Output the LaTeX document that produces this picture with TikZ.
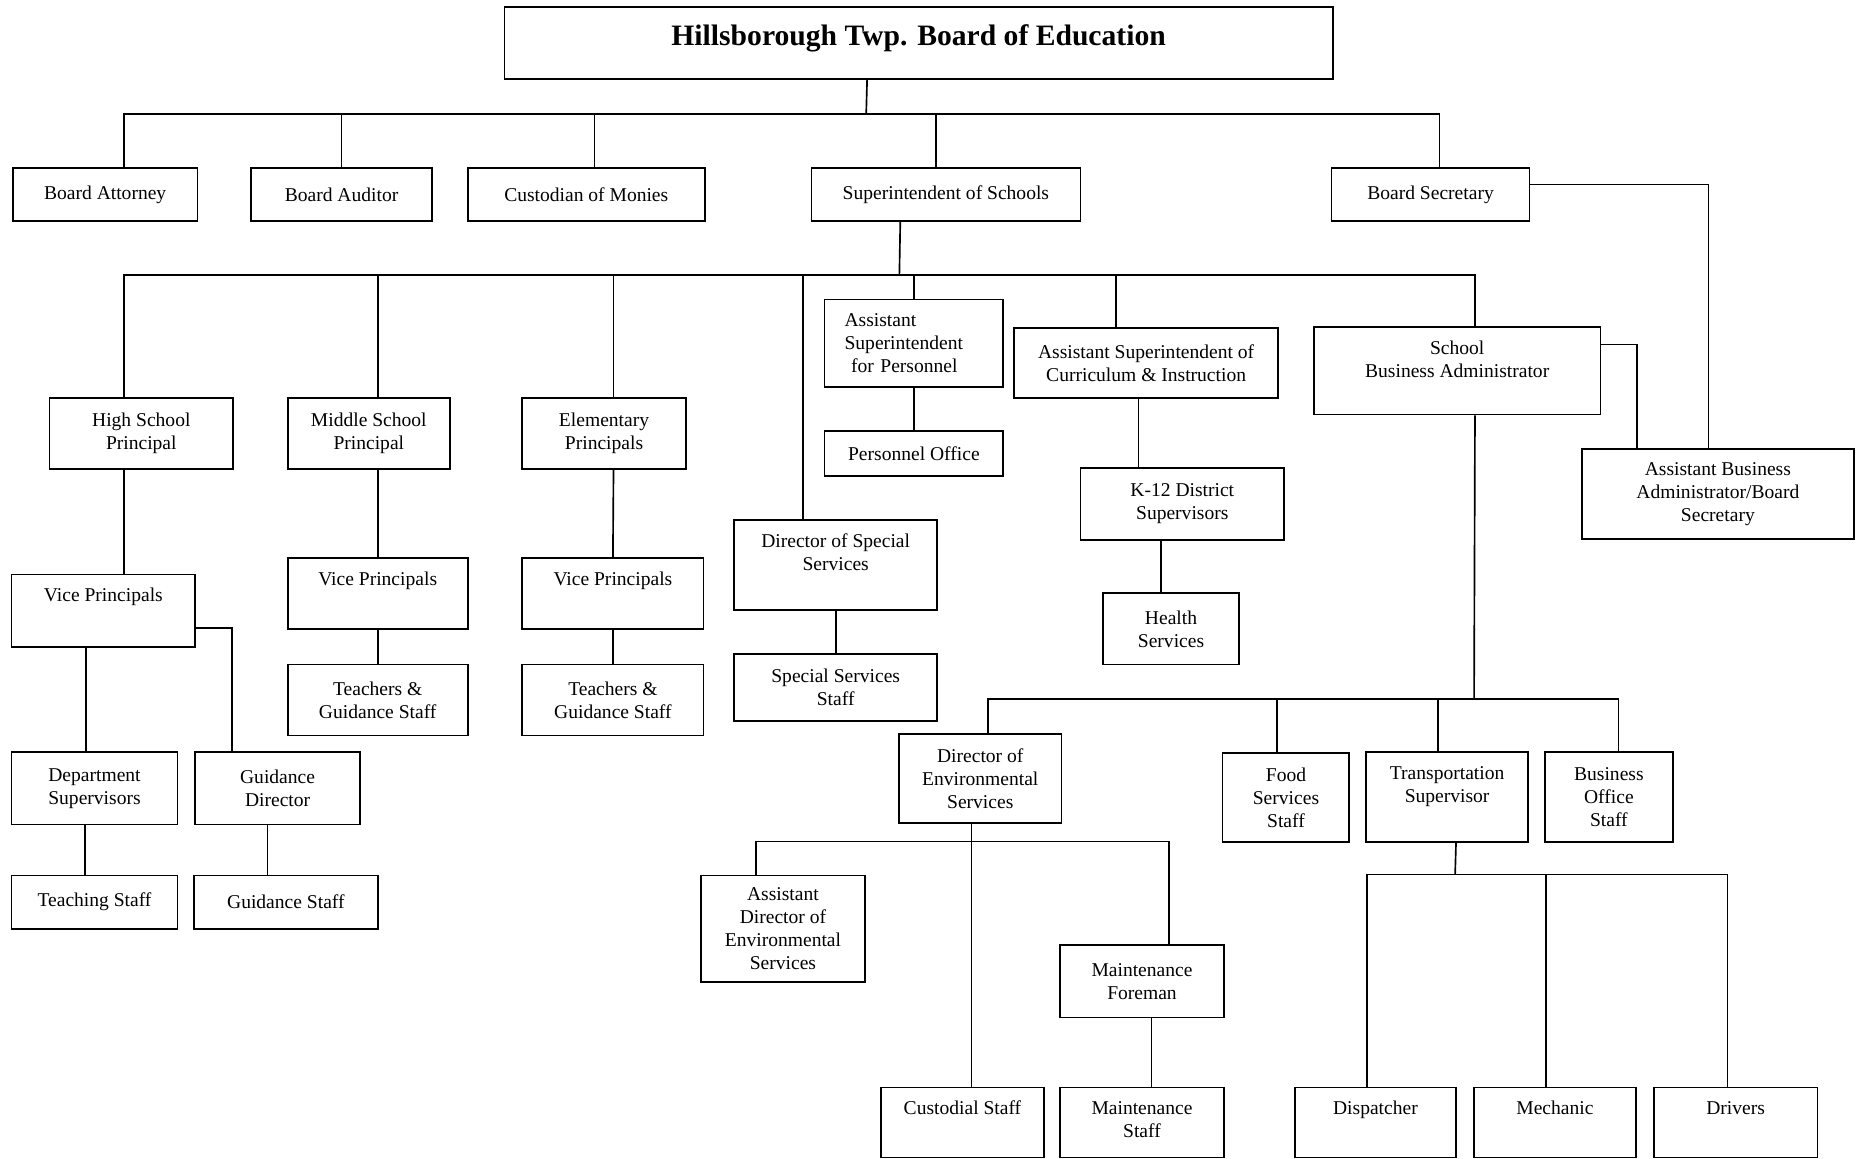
\documentclass[tikz,border=0pt]{standalone}
\usepackage{fontspec}
\setmainfont{Liberation Serif}
\tikzset{
  box/.style={draw, line width=1.5pt, anchor=north west, inner sep=0pt, align=center},
  toph/.style={text height=23pt, text depth=#1},
  tophtwo/.style={text height=42.5pt, text depth=#1},
  conn/.style={line width=1.4pt}
}
\begin{document}
\begin{tikzpicture}[x=1pt,y=1pt,font=\fontsize{16.5}{19.5}\selectfont]
    \useasboundingbox (0,0) rectangle (1568,-978);

% board and its direct offices
\node[box, minimum width=699pt, text height=33pt, text depth=28pt, font=\fontsize{25}{30}\selectfont\bfseries] (board) at (425,-5) {Hillsborough Twp. Board of Education};
\node[box, minimum width=156pt, minimum height=45pt] (attorney) at (10,-141) {Board Attorney};
\node[box, minimum width=153pt, minimum height=45pt] (auditor) at (211,-141) {Board Auditor};
\node[box, minimum width=200pt, minimum height=45pt] (custodian) at (394,-141) {Custodian of Monies};
\node[box, minimum width=227pt, minimum height=45pt] (super) at (684,-141) {Superintendent of Schools};
\node[box, minimum width=167pt, minimum height=45pt] (secretary) at (1123,-141) {Board Secretary};
\node[box, minimum width=230pt, minimum height=76pt] (aba) at (1334,-378) {Assistant Business\\Administrator/Board\\Secretary};

% under the superintendent
\node[box, minimum width=155pt, minimum height=60pt] (hsp) at (41,-335) {High School\\Principal};
\node[box, minimum width=137pt, minimum height=60pt] (msp) at (242,-335) {Middle School\\Principal};
\node[box, minimum width=138pt, minimum height=60pt] (elp) at (440,-335) {Elementary\\Principals};
\node[box, minimum width=171pt, tophtwo=33.5pt] (dss) at (619,-438) {Director of Special\\Services};
\node[box, minimum width=151pt, minimum height=74pt, text width=117pt, align=left] (asp) at (695,-252) {Assistant\\Superintendent\\\ for Personnel};
\node[box, minimum width=151pt, minimum height=38pt] (po) at (695,-363) {Personnel Office};
\node[box, minimum width=223pt, minimum height=59pt] (asc) at (855,-276) {Assistant Superintendent of\\Curriculum \& Instruction};
\node[box, minimum width=242pt, tophtwo=31.5pt] (sba) at (1108,-275) {School\\Business Administrator};

% schools
\node[box, minimum width=155pt, toph=38pt] (hvp) at (9,-484) {Vice Principals};
\node[box, minimum width=140pt, minimum height=61pt] (dsup) at (9,-634) {Department\\Supervisors};
\node[box, minimum width=139pt, minimum height=61pt] (gdir) at (164,-634) {Guidance\\Director};
\node[box, minimum width=140pt, minimum height=45pt] (tstaff) at (9,-738) {Teaching Staff};
\node[box, minimum width=155pt, minimum height=45pt] (gstaff) at (163,-738) {Guidance Staff};
\node[box, minimum width=152pt, toph=37pt] (mvp) at (242,-470) {Vice Principals};
\node[box, minimum width=152pt, minimum height=60pt] (mts) at (242,-560) {Teachers \&\\Guidance Staff};
\node[box, minimum width=153pt, toph=37pt] (evp) at (440,-470) {Vice Principals};
\node[box, minimum width=153pt, minimum height=60pt] (ets) at (440,-560) {Teachers \&\\Guidance Staff};
\node[box, minimum width=171pt, minimum height=57pt] (sss) at (619,-551) {Special Services\\Staff};
\node[box, minimum width=172pt, minimum height=61pt] (k12) at (911,-394) {K-12 District\\Supervisors};
\node[box, minimum width=115pt, minimum height=60pt] (health) at (930,-500) {Health\\Services};

% business side
\node[box, minimum width=137pt, minimum height=75pt] (des) at (758,-619) {Director of\\Environmental\\Services};
\node[box, minimum width=107pt, minimum height=75pt] (food) at (1031,-635) {Food\\Services\\Staff};
\node[box, minimum width=137pt, tophtwo=33.5pt] (trans) at (1152,-634) {Transportation\\Supervisor};
\node[box, minimum width=108pt, minimum height=76pt] (bos) at (1303,-634) {Business\\Office\\Staff};
\node[box, minimum width=138pt, minimum height=90pt] (ades) at (591,-738) {Assistant\\Director of\\Environmental\\Services};
\node[box, minimum width=138pt, minimum height=61pt] (mfore) at (894,-797) {Maintenance\\Foreman};
\node[box, minimum width=137pt, toph=36pt] (cust) at (743,-917) {Custodial Staff};
\node[box, minimum width=138pt, tophtwo=16.5pt] (mstaff) at (894,-917) {Maintenance\\Staff};
\node[box, minimum width=136pt, toph=36pt] (disp) at (1092,-917) {Dispatcher};
\node[box, minimum width=137pt, toph=36pt] (mech) at (1243,-917) {Mechanic};
\node[box, minimum width=138pt, toph=36pt] (drv) at (1395,-917) {Drivers};

% connectors
\coordinate (busA) at (731,-96);
\draw[conn] ([xshift=-43.5pt]board.south) -- (busA);
\draw[conn] (busA) -| ([xshift=16pt]attorney.north);
\draw[conn] (busA) -| (auditor.north);
\draw[conn] (busA) -| ([xshift=7pt]custodian.north);
\draw[conn] (busA) -| ([xshift=-8.5pt]super.north);
\draw[conn] (busA) -| ([xshift=7.5pt]secretary.north);
\draw[conn] ([yshift=8.5pt]secretary.east) -| ([xshift=-8pt]aba.north);

\coordinate (busB) at (759,-232);
\draw[conn] ([xshift=-38.5pt]super.south) -- (busB);
\draw[conn] (busB) -| ([xshift=-14.5pt]hsp.north);
\draw[conn] (busB) -| ([xshift=7.5pt]msp.north);
\draw[conn] (busB) -| ([xshift=8pt]elp.north);
\draw[conn] (busB) -| ([xshift=-27.5pt]dss.north);
\draw[conn] (busB) -| (asp.north);
\draw[conn] (busB) -| ([xshift=-25.5pt]asc.north);
\draw[conn] (busB) -| ([xshift=15pt]sba.north);
\draw[conn] ([yshift=22pt]sba.east) -| ([xshift=-68pt]aba.north);

\draw[conn] ([xshift=-14.5pt]hsp.south) -- ([xshift=17.5pt]hvp.north);
\draw[conn] ([xshift=-14.5pt]hvp.south) -- ([xshift=-7pt]dsup.north);
\draw[conn] ([yshift=-14.5pt]hvp.east) -| ([xshift=-38.5pt]gdir.north);
\draw[conn] ([xshift=-8pt]dsup.south) -- ([xshift=-8pt]tstaff.north);
\draw[conn] ([xshift=-8.5pt]gdir.south) -- ([xshift=-15.5pt]gstaff.north);
\draw[conn] ([xshift=7.5pt]msp.south) -- (mvp.north);
\draw[conn] (mvp.south) -- (mts.north);
\draw[conn] ([xshift=8pt]elp.south) -- (evp.north);
\draw[conn] (evp.south) -- (ets.north);
\draw[conn] (asp.south) -- (po.north);
\draw[conn] (dss.south) -- (sss.north);
\draw[conn] ([xshift=-6.5pt]asc.south) -- ([xshift=-37pt]k12.north);
\draw[conn] ([xshift=-18pt]k12.south) -- ([xshift=-8.5pt]health.north);

\coordinate (busC) at (1244,-590);
\draw[conn] ([xshift=15pt]sba.south) -- (busC);
\draw[conn] (busC) -| ([xshift=6.5pt]des.north);
\draw[conn] (busC) -| ([xshift=-7.5pt]food.north);
\draw[conn] (busC) -| ([xshift=-7.5pt]trans.north);
\draw[conn] (busC) -| ([xshift=8pt]bos.north);

\coordinate (busD) at (819,-710);
\draw[conn] ([xshift=-7.5pt]des.south) -- ([xshift=7.5pt]cust.north);
\draw[conn] (busD) -| ([xshift=-23pt]ades.north);
\draw[conn] (busD) -| ([xshift=23pt]mfore.north);
\draw[conn] ([xshift=8pt]mfore.south) -- ([xshift=8pt]mstaff.north);

\coordinate (busE) at (1228,-738);
\draw[conn] ([xshift=7.5pt]trans.south) -- (busE);
\draw[conn] (busE) -| ([xshift=-7pt]disp.north);
\draw[conn] (busE) -| ([xshift=-7.5pt]mech.north);
\draw[conn] (busE) -| ([xshift=-7pt]drv.north);

\end{tikzpicture}
\end{document}
